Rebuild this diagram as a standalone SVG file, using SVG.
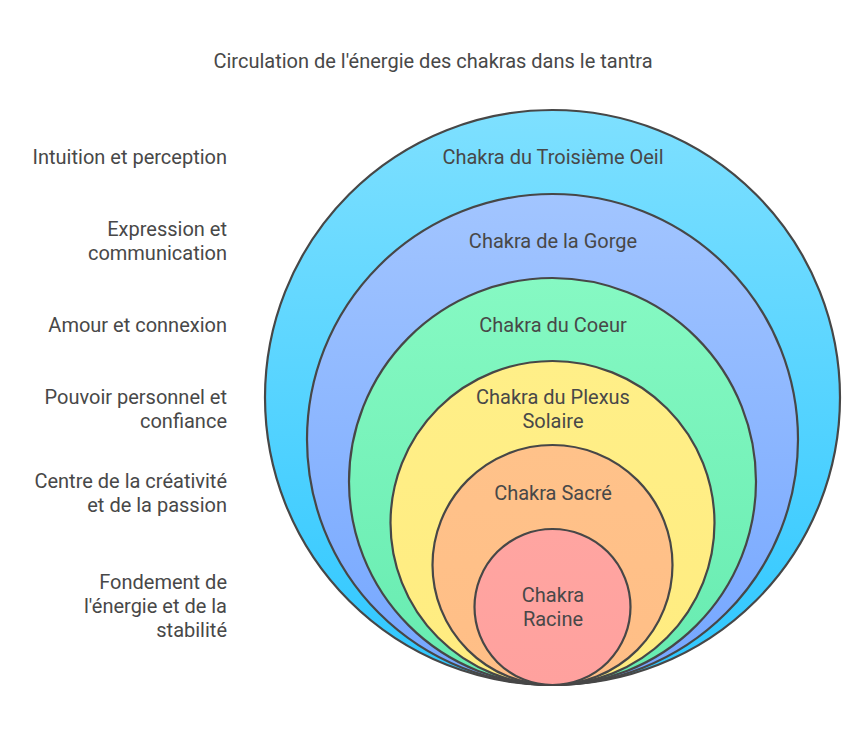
<svg xmlns="http://www.w3.org/2000/svg" width="866" height="735" viewBox="0 0 866 735">
<defs>
<linearGradient id="g1" x1="0" y1="0" x2="0" y2="1"><stop offset="0" stop-color="#7EE0FF"/><stop offset="1" stop-color="#2EC7FF"/></linearGradient>
<linearGradient id="g2" x1="0" y1="0" x2="0" y2="1"><stop offset="0" stop-color="#A2C5FF"/><stop offset="1" stop-color="#74A6FF"/></linearGradient>
<linearGradient id="g3" x1="0" y1="0" x2="0" y2="1"><stop offset="0" stop-color="#86F9C3"/><stop offset="1" stop-color="#66EBB0"/></linearGradient>
<linearGradient id="g4" x1="0" y1="0" x2="0" y2="1"><stop offset="0" stop-color="#FFEF88"/><stop offset="1" stop-color="#FFEC80"/></linearGradient>
<linearGradient id="g5" x1="0" y1="0" x2="0" y2="1"><stop offset="0" stop-color="#FFC28A"/><stop offset="1" stop-color="#FFBE86"/></linearGradient>
<linearGradient id="g6" x1="0" y1="0" x2="0" y2="1"><stop offset="0" stop-color="#FFA5A1"/><stop offset="1" stop-color="#FFA19E"/></linearGradient>
</defs>
<style>
circle{stroke:#474747;stroke-width:2.2}
text{font-family:Roboto,"Liberation Sans",sans-serif;font-size:20px;fill:#484848}
.l{text-anchor:end}
.c{text-anchor:middle}
</style>
<text class="c" x="433" y="68">Circulation de l'énergie des chakras dans le tantra</text>
<g id="crown-eye"><circle cx="552.5" cy="397.5" r="287.5" fill="url(#g1)"/><text class="c" x="553" y="164">Chakra du Troisième Oeil</text></g>
<g id="throat"><circle cx="552.5" cy="439.5" r="245.5" fill="url(#g2)"/><text class="c" x="553" y="248">Chakra de la Gorge</text></g>
<g id="heart"><circle cx="552.5" cy="481.5" r="203.5" fill="url(#g3)"/><text class="c" x="553" y="332">Chakra du Coeur</text></g>
<g id="solar"><circle cx="552.5" cy="523" r="162" fill="url(#g4)"/><text class="c" x="553" y="404">Chakra du Plexus</text><text class="c" x="553" y="428">Solaire</text></g>
<g id="sacral"><circle cx="552.5" cy="565" r="120" fill="url(#g5)"/><text class="c" x="553" y="500">Chakra Sacré</text></g>
<g id="root"><circle cx="552.5" cy="607" r="78" fill="url(#g6)"/><text class="c" x="553" y="602">Chakra</text><text class="c" x="553" y="626">Racine</text></g>
<g id="labels">
<text class="l" x="227" y="164">Intuition et perception</text>
<text class="l" x="227" y="236">Expression et</text><text class="l" x="227" y="260">communication</text>
<text class="l" x="227" y="332">Amour et connexion</text>
<text class="l" x="227" y="404">Pouvoir personnel et</text><text class="l" x="227" y="428">confiance</text>
<text class="l" x="227" y="488">Centre de la créativité</text><text class="l" x="227" y="512">et de la passion</text>
<text class="l" x="227" y="589">Fondement de</text><text class="l" x="227" y="613">l'énergie et de la</text><text class="l" x="227" y="637">stabilité</text>
</g>
</svg>
